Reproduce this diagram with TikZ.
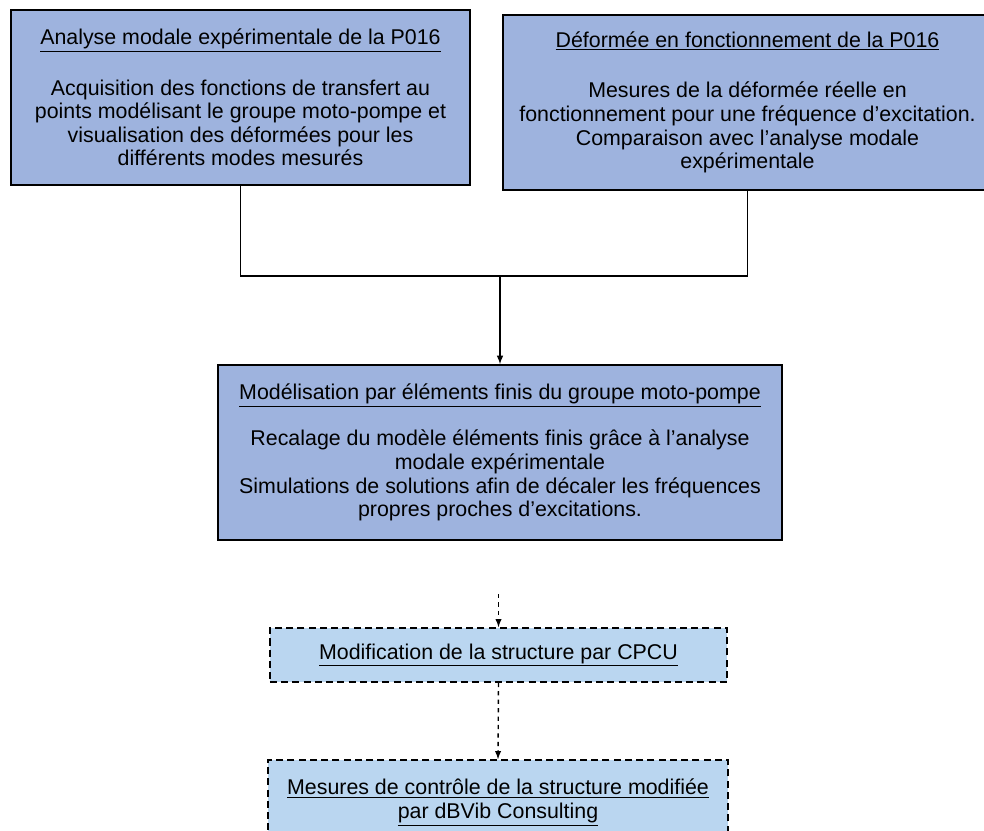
\documentclass[tikz,border=0pt]{standalone}
\usepackage{fontspec}
\setmainfont{Liberation Sans}
\definecolor{boxblue}{RGB}{158,179,222}
\definecolor{lightblue}{RGB}{186,214,240}
\tikzset{
  txt/.style={font=\fontsize{15.2}{16.8}\selectfont, align=center},
  etape/.style={txt, draw=black, line width=1.1pt, fill=boxblue},
  suite/.style={txt, draw=black, line width=1.1pt, dash pattern=on 5pt off 3pt, fill=lightblue},
}
\begin{document}
\begin{tikzpicture}[x=0.025cm,y=-0.025cm]
        \useasboundingbox (0,0) rectangle (984,830);
        % analyse modale
        \node[etape, minimum width=11.475cm, minimum height=4.375cm] (ama) at (240.5,97.5)
           {\underline{Analyse modale expérimentale de la P016}\\[19pt]
            Acquisition des fonctions de transfert au\\
            points modélisant le groupe moto-pompe et\\
            visualisation des déformées pour les\\
            différents modes mesurés};
        % deformee en fonctionnement
        \node[etape, minimum width=12.225cm, minimum height=4.375cm] (odf) at (747.5,102.5)
           {\underline{Déformée en fonctionnement de la P016}\\[19pt]
            Mesures de la déformée réelle en\\
            fonctionnement pour une fréquence d'excitation.\\
            Comparaison avec l'analyse modale\\
            expérimentale};
        % elements finis
        \node[etape, minimum width=14.1cm, minimum height=4.375cm] (mef) at (500,452.5)
           {\underline{Modélisation par éléments finis du groupe moto-pompe}\\[16pt]
            Recalage du modèle éléments finis grâce à l'analyse\\
            modale expérimentale\\
            Simulations de solutions afin de décaler les fréquences\\
            propres proches d'excitations.};
        % modification
        \node[suite, minimum width=11.425cm, minimum height=1.35cm] (modif) at (498.5,655)
           {\underline{Modification de la structure par CPCU}};
        \node[suite, minimum width=11.5cm, minimum height=2.125cm] (ctrl) at (498,802.5)
           {\underline{Mesures de contrôle de la structure modifiée}\\
            \underline{par dBVib Consulting}};

        \coordinate (jonction) at (500,276);
        \coordinate (depart) at (498.5,594);
        \draw[line width=1.1pt] (ama.south) |- (jonction) -| (odf.south);
        \draw[line width=1.1pt,-latex] (jonction) -- (mef.north);
        \draw[line width=1pt,dashed,-latex] (depart) -- (modif.north);
        \draw[line width=1pt,dashed,-latex] (modif.south) -- (ctrl.north);
    \end{tikzpicture}
\end{document}
